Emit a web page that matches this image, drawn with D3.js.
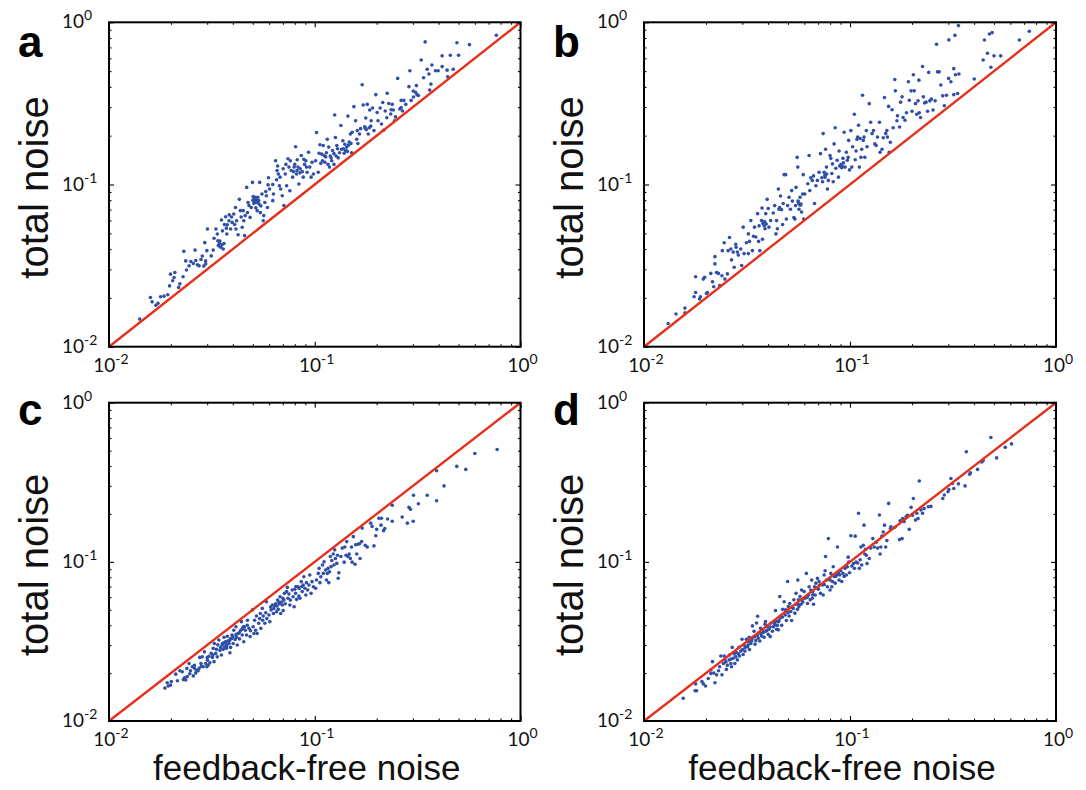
<!DOCTYPE html>
<html><head><meta charset="utf-8">
<script src="https://cdn.jsdelivr.net/npm/d3@7"></script>
<style>body{margin:0;background:#fff} svg{display:block}</style>
</head><body>
<svg id="chart" width="1086" height="790"></svg>
<script>
const panelLetters = ["a", "b", "c", "d"];
const tickValues = [0.01, 0.1, 1];
const tickExponents = ["-2", "-1", "0"];
const yTitle = "total noise";
const xTitle = "feedback-free noise";

const pointsA = [
[0.0141,0.0148],[0.0159,0.0201],[0.0162,0.0189],[0.0169,0.0180],[0.0173,0.0185],[0.0178,0.0203],[0.0185,0.0205],[0.0193,0.0209],[0.0197,0.0237],[0.0199,0.0280],[0.0204,0.0255],[0.0207,0.0267],[0.0209,0.0287],
[0.0218,0.0232],[0.0221,0.0244],[0.0229,0.0270],[0.0231,0.0387],[0.0236,0.0338],[0.0238,0.0297],[0.0245,0.0315],[0.0257,0.0326],[0.0262,0.0394],[0.0269,0.0320],[0.0274,0.0315],[0.0284,0.0362],[0.0289,0.0314],[0.0292,0.0438],[0.0295,0.0338],[0.0301,0.0532],[0.0299,0.0391],[0.0295,0.0324],
[0.0314,0.0363],[0.0321,0.0394],[0.0324,0.0466],[0.0331,0.0532],[0.0336,0.0495],[0.0344,0.0433],[0.0349,0.0410],[0.0352,0.0604],[0.0356,0.0518],[0.0362,0.0433],[0.0359,0.0400],[0.0369,0.0632],[0.0374,0.0495],[0.0376,0.0565],[0.0383,0.0598],[0.0390,0.0532],[0.0397,0.0584],[0.0404,0.0658],[0.0412,0.0721],[0.0417,0.0598],[0.0424,0.0490],[0.0430,0.0810],[0.0435,0.0690],
[0.0444,0.0545],[0.0452,0.0598],[0.0456,0.0484],[0.0467,0.0960],[0.0471,0.0671],[0.0479,0.0743],[0.0485,0.0627],[0.0491,0.0722],[0.0498,0.103],[0.0506,0.0765],[0.0514,0.0834],[0.0521,0.0775],[0.0525,0.0690],[0.0534,0.0795],[0.0540,0.103],[0.0544,0.0671],[0.0547,0.0738],[0.0554,0.0874],[0.0562,0.0598],[0.0565,0.0643],[0.0572,0.0775],[0.0582,0.0852],[0.0589,0.0722],[0.0596,0.110],[0.0603,0.0939],[0.0625,0.0795],[0.0630,0.0874],
[0.0645,0.140],[0.0652,0.107],[0.0660,0.130],[0.0665,0.116],[0.0673,0.0983],[0.0683,0.0939],[0.0695,0.0852],[0.0708,0.0742],[0.0719,0.116],[0.0730,0.0983],[0.0741,0.144],[0.0749,0.128],[0.0757,0.0916],[0.0769,0.122],[0.0781,0.111],[0.0794,0.128],[0.0807,0.171],[0.0816,0.116],[0.0829,0.128],[0.0837,0.1008],[0.0847,0.118],[0.0860,0.151],[0.0879,0.111],[0.0892,0.133],[0.0905,0.140],[0.0918,0.119],[0.0933,0.158],[0.0946,0.128],[0.0960,0.111],[0.0970,0.137],[0.0985,0.116],
[0.102,0.209],[0.104,0.119],[0.106,0.176],[0.108,0.154],[0.109,0.140],[0.111,0.151],[0.113,0.148],[0.115,0.190],[0.116,0.133],[0.117,0.170],[0.118,0.128],[0.120,0.146],[0.122,0.162],[0.124,0.133],[0.125,0.268],[0.126,0.195],[0.128,0.174],[0.130,0.146],[0.132,0.157],[0.134,0.231],
[0.135,0.165],[0.137,0.186],[0.139,0.156],[0.141,0.162],[0.143,0.170],[0.145,0.264],[0.147,0.183],[0.149,0.205],[0.151,0.157],[0.152,0.210],[0.155,0.302],[0.158,0.247],[0.160,0.190],[0.162,0.179],[0.165,0.205],[0.167,0.221],[0.170,0.412],[0.172,0.309],[0.175,0.227],[0.177,0.257],[0.180,0.312],[0.182,0.205],[0.185,0.288],[0.188,0.247],[0.191,0.296],
[0.194,0.215],[0.198,0.358],[0.201,0.278],[0.203,0.247],[0.208,0.296],[0.211,0.236],[0.214,0.320],[0.216,0.216],[0.220,0.284],[0.225,0.365],[0.229,0.316],[0.234,0.272],[0.238,0.312],[0.241,0.288],[0.244,0.247],[0.247,0.261],[0.253,0.451],[0.259,0.292],[0.263,0.298],[0.267,0.284],[0.271,0.330],[0.277,0.312],
[0.287,0.401],[0.290,0.503],[0.294,0.330],[0.302,0.346],[0.309,0.370],[0.314,0.358],[0.319,0.354],[0.329,0.586],[0.338,0.455],[0.344,0.757],[0.352,0.514],[0.359,0.480],[0.362,0.382],[0.367,0.416],[0.371,0.545],[0.386,0.503],
[0.398,0.503],[0.416,0.621],[0.416,0.533],[0.440,0.507],[0.443,0.461],[0.456,0.627],[0.471,0.514],[0.491,0.748],[0.500,0.627],[0.565,0.728],[0.763,0.832],
[0.0338,0.0450],[0.0364,0.0567],[0.0372,0.0538],[0.0384,0.0650],[0.0394,0.0630],[0.0408,0.0567],[0.0414,0.0532],[0.0439,0.0630],[0.0449,0.0690],[0.0459,0.0643],[0.0474,0.0775],[0.0502,0.0842],[0.0510,0.0787],[0.0517,0.0718],[0.0529,0.0834],[0.0536,0.0757],[0.0578,0.0905],[0.0593,0.0995],[0.0625,0.100],[0.0656,0.122],[0.0678,0.111],[0.0702,0.125],[0.0724,0.133],[0.0761,0.140],[0.0800,0.133],[0.0822,0.142],[0.0885,0.143],[0.0912,0.128],[0.101,0.140],[0.105,0.156],[0.110,0.174],[0.114,0.157],[0.121,0.140],[0.129,0.166],[0.140,0.177],[0.150,0.179],[0.161,0.215],[0.176,0.222],[0.187,0.229],[0.224,0.258],[0.235,0.289],[0.263,0.330],[0.301,0.377],[0.312,0.407],
[0.0340,0.0420],[0.0346,0.0448],[0.0354,0.0425],[0.0500,0.0800],[0.0508,0.0820],[0.0520,0.0810],[0.0530,0.0790],[0.0790,0.120],[0.0820,0.122],[0.0850,0.125],[0.0870,0.120],[0.107,0.135],[0.112,0.137],[0.119,0.150],[0.124,0.155],[0.127,0.150],[0.138,0.166],[0.144,0.160],[0.146,0.175],[0.178,0.218],[0.184,0.224],[0.0250,0.0335],[0.0264,0.0340],[0.0280,0.0345]
];

const pointsB = [
[0.0131,0.0139],[0.0143,0.0159],[0.0158,0.0173],[0.0158,0.0162],[0.0175,0.0203],[0.0178,0.0216],[0.0178,0.0270],[0.0186,0.0197],[0.0188,0.0203],[0.0194,0.0261],[0.0197,0.0268],[0.0201,0.0213],[0.0203,0.0216],[0.0211,0.0283],[0.0215,0.0251],[0.0218,0.0234],[0.0221,0.0324],[0.0221,0.0359],[0.0225,0.0287],[0.0230,0.0283],[0.0233,0.0238],[0.0239,0.0274],[0.0240,0.0391],[0.0245,0.0437],[0.0247,0.0261],[0.0254,0.0281],[0.0256,0.0391],[0.0260,0.0471],[0.0264,0.0400],[0.0266,0.0343],[0.0271,0.0383],[0.0274,0.0309],[0.0279,0.0428],[0.0284,0.0383],[0.0287,0.0367],[0.0298,0.0317],
[0.0303,0.0546],[0.0306,0.0375],[0.0314,0.0437],[0.0321,0.0496],[0.0321,0.0375],[0.0325,0.0446],[0.0330,0.0599],[0.0336,0.0391],[0.0344,0.0546],[0.0349,0.0475],[0.0356,0.0661],[0.0360,0.0446],[0.0362,0.0556],[0.0365,0.0391],[0.0372,0.0599],[0.0374,0.0717],[0.0376,0.0460],[0.0383,0.0556],[0.0387,0.0533],[0.0390,0.0661],[0.0396,0.0810],[0.0401,0.0711],[0.0404,0.0546],[0.0412,0.0599],[0.0424,0.0667],[0.0431,0.0741],[0.0437,0.0496],[0.0440,0.0599],[0.0444,0.0533],[0.0449,0.0937],[0.0452,0.0703],[0.0460,0.0850],[0.0471,0.0566],[0.0474,0.0763],[0.0479,0.115],[0.0487,0.115],[0.0491,0.0612],[0.0498,0.0741],[0.0506,0.0834],[0.0514,0.0703],[0.0521,0.0917],[0.0525,0.0790],[0.0534,0.0625],[0.0540,0.0612],[0.0544,0.0741],[0.0547,0.0960],[0.0554,0.147],[0.0558,0.128],[0.0562,0.0774],[0.0565,0.0703],[0.0572,0.0834],[0.0578,0.0758],[0.0582,0.0677],[0.0589,0.0874],[0.0593,0.115],[0.0596,0.0612],[0.0603,0.0874],[0.0624,0.101],
[0.0633,0.151],[0.0638,0.0917],[0.0645,0.110],[0.0656,0.106],[0.0665,0.113],[0.0673,0.0763],[0.0683,0.0982],[0.0695,0.106],[0.0708,0.119],[0.0719,0.155],[0.0730,0.110],[0.0736,0.104],[0.0741,0.206],[0.0749,0.119],[0.0757,0.111],[0.0761,0.165],[0.0769,0.128],[0.0777,0.0937],[0.0785,0.106],[0.0800,0.151],[0.0807,0.145],[0.0816,0.117],[0.0822,0.134],[0.0829,0.104],[0.0837,0.178],[0.0847,0.224],[0.0853,0.126],[0.0866,0.141],[0.0879,0.111],[0.0885,0.161],[0.0901,0.131],[0.0912,0.127],[0.0924,0.145],[0.0937,0.210],[0.0946,0.128],[0.0960,0.158],[0.0970,0.141],[0.0980,0.147],[0.0985,0.187],[0.0995,0.123],
[0.101,0.215],[0.102,0.128],[0.103,0.171],[0.105,0.271],[0.106,0.142],[0.107,0.161],[0.109,0.196],[0.110,0.232],[0.111,0.128],[0.113,0.147],[0.114,0.165],[0.115,0.355],[0.116,0.187],[0.117,0.196],[0.118,0.147],[0.120,0.215],[0.121,0.171],[0.124,0.315],[0.126,0.242],[0.128,0.206],[0.130,0.215],[0.132,0.178],[0.134,0.174],[0.136,0.196],[0.139,0.242],[0.140,0.158],[0.143,0.165],[0.145,0.194],[0.147,0.344],[0.149,0.206],[0.151,0.215],[0.152,0.196],[0.154,0.303],[0.155,0.158],[0.157,0.182],[0.160,0.289],[0.162,0.224],[0.165,0.444],[0.166,0.378],[0.169,0.247],[0.170,0.265],[0.174,0.226],[0.176,0.322],[0.179,0.347],[0.181,0.259],[0.185,0.249],[0.188,0.277],[0.192,0.430],[0.194,0.331],[0.198,0.378],
[0.200,0.283],[0.203,0.475],[0.205,0.378],[0.208,0.315],[0.211,0.271],[0.214,0.328],[0.216,0.440],[0.217,0.277],[0.220,0.259],[0.225,0.534],[0.227,0.347],[0.230,0.318],[0.234,0.322],[0.238,0.283],[0.241,0.491],[0.244,0.328],[0.248,0.336],[0.253,0.288],[0.259,0.328],[0.263,0.732],[0.266,0.495],[0.271,0.495],[0.276,0.411],[0.282,0.352],[0.287,0.306],[0.294,0.355],[0.301,0.451],[0.302,0.779],[0.309,0.430],[0.319,0.518],[0.319,0.358],[0.323,0.831],[0.325,0.475],[0.333,0.364],[0.336,0.954],[0.338,0.480],
[0.401,0.447],[0.443,0.586],[0.449,0.778],[0.465,0.644],[0.475,0.847],[0.483,0.528],[0.490,0.864],[0.500,0.621],[0.539,0.621],[0.664,0.778],[0.742,0.881],
[0.0378,0.0575],[0.0385,0.0590],[0.0392,0.0570],[0.0566,0.0760],[0.0574,0.0745],[0.0560,0.0790],[0.0890,0.130],[0.0905,0.133],[0.0918,0.129],[0.0930,0.136],[0.0755,0.114],[0.0770,0.116],[0.108,0.190],[0.112,0.192],[0.0280,0.0410],[0.0295,0.0400],[0.0340,0.0480],[0.0455,0.0720],[0.0465,0.0700]
];

const pointsC = [
[0.0187,0.0161],[0.0192,0.0174],[0.0194,0.0166],[0.0199,0.0168],[0.0201,0.0177],[0.0211,0.0197],[0.0215,0.0179],[0.0221,0.0207],[0.0227,0.0204],[0.0230,0.0182],[0.0233,0.0187],[0.0236,0.0181],[0.0239,0.0214],[0.0240,0.0190],[0.0245,0.0230],[0.0247,0.0198],[0.0249,0.0207],[0.0254,0.0219],[0.0257,0.0192],[0.0260,0.0224],[0.0264,0.0200],[0.0266,0.0208],[0.0271,0.0207],[0.0274,0.0214],[0.0276,0.0251],[0.0281,0.0221],[0.0284,0.0253],[0.0287,0.0219],[0.0291,0.0272],[0.0295,0.0230],[0.0299,0.0219],
[0.0301,0.0241],[0.0303,0.0224],[0.0306,0.0255],[0.0309,0.0232],[0.0314,0.0266],[0.0318,0.0251],[0.0321,0.0286],[0.0324,0.0236],[0.0325,0.0307],[0.0330,0.0266],[0.0333,0.0282],[0.0336,0.0253],[0.0338,0.0301],[0.0342,0.0323],[0.0346,0.0278],[0.0349,0.0290],[0.0352,0.0260],[0.0356,0.0307],[0.0359,0.0282],[0.0362,0.0336],[0.0365,0.0292],[0.0368,0.0315],[0.0372,0.0286],[0.0374,0.0296],[0.0376,0.0341],[0.0383,0.0307],[0.0387,0.0268],[0.0389,0.0328],[0.0390,0.0290],[0.0396,0.0347],[0.0401,0.0307],[0.0404,0.0372],[0.0410,0.0325],[0.0414,0.0391],[0.0417,0.0336],[0.0420,0.0300],[0.0425,0.0355],[0.0431,0.0328],
[0.0437,0.0372],[0.0440,0.0421],[0.0444,0.0347],[0.0449,0.0391],[0.0452,0.0315],[0.0460,0.0372],[0.0466,0.0347],[0.0471,0.0430],[0.0479,0.0382],[0.0485,0.0339],[0.0487,0.0369],[0.0498,0.0499],[0.0502,0.0391],[0.0506,0.0355],[0.0510,0.0430],[0.0516,0.0372],[0.0521,0.0457],[0.0525,0.0355],[0.0534,0.0411],[0.0540,0.0440],[0.0544,0.0474],[0.0547,0.0382],[0.0556,0.0510],[0.0558,0.0430],[0.0562,0.0457],[0.0572,0.0411],[0.0578,0.0479],[0.0582,0.0561],[0.0585,0.0440],[0.0599,0.0463],[0.0605,0.0421],[0.0614,0.0499],[0.0622,0.0536],[0.0630,0.0474],[0.0633,0.0510],
[0.0645,0.0546],[0.0652,0.0486],[0.0656,0.0528],[0.0660,0.0575],[0.0665,0.0503],[0.0673,0.0546],[0.0678,0.0604],[0.0683,0.0474],[0.0695,0.0536],[0.0702,0.0494],[0.0708,0.0575],[0.0712,0.0634],[0.0719,0.0546],[0.0730,0.0650],[0.0736,0.0691],[0.0741,0.0590],[0.0749,0.0628],[0.0757,0.0536],[0.0761,0.0575],[0.0777,0.0666],[0.0785,0.0604],[0.0794,0.0522],[0.0800,0.0673],[0.0807,0.0634],[0.0816,0.0581],[0.0829,0.0698],[0.0837,0.0609],[0.0847,0.0590],[0.0860,0.0751],[0.0869,0.0650],[0.0879,0.0715],[0.0885,0.0806],[0.0895,0.0682],[0.0905,0.0619],[0.0912,0.0740],[0.0924,0.0666],[0.0937,0.0715],[0.0946,0.0827],[0.0960,0.0634],[0.0970,0.0751],[0.0985,0.0698],
[0.101,0.0682],[0.102,0.0769],[0.104,0.0846],[0.105,0.0910],[0.106,0.0740],[0.107,0.0806],[0.109,0.0955],[0.110,0.0846],[0.111,0.100],[0.113,0.0889],[0.114,0.0769],[0.115,0.0846],[0.116,0.0910],[0.117,0.0740],[0.118,0.0865],[0.119,0.108],[0.120,0.0933],[0.121,0.102],[0.123,0.112],[0.124,0.0955],[0.125,0.119],[0.126,0.105],[0.128,0.0978],[0.129,0.110],[0.130,0.0788],[0.131,0.0855],[0.134,0.108],[0.136,0.122],[0.139,0.0996],[0.140,0.124],[0.142,0.110],[0.143,0.134],[0.145,0.108],[0.147,0.112],[0.149,0.105],[0.151,0.124],[0.152,0.0996],[0.154,0.144],[0.157,0.0965],[0.158,0.128],[0.160,0.112],[0.162,0.129],[0.165,0.130],[0.166,0.105],[0.169,0.134],[0.170,0.163],
[0.176,0.127],[0.180,0.124],[0.187,0.175],[0.190,0.167],[0.194,0.126],[0.198,0.146],[0.200,0.160],[0.205,0.188],[0.210,0.170],[0.211,0.188],[0.216,0.157],[0.219,0.162],[0.226,0.186],[0.238,0.227],[0.238,0.180],[0.266,0.191],[0.282,0.175],[0.287,0.220],[0.292,0.214],[0.301,0.180],[0.302,0.262],[0.319,0.232],[0.352,0.262],[0.391,0.374],[0.391,0.242],[0.425,0.300],[0.490,0.398],[0.542,0.381],[0.600,0.479],[0.770,0.508],
[0.0355,0.0300],[0.0362,0.0310],[0.0370,0.0305],[0.0378,0.0318],[0.0385,0.0320],[0.0395,0.0330],[0.0400,0.0340],[0.0415,0.0350],[0.0430,0.0360],[0.0445,0.0380],[0.0455,0.0390],[0.0470,0.0400],[0.0610,0.0520],[0.0640,0.0530],[0.0668,0.0560],[0.0690,0.0560],[0.0700,0.0590],[0.0810,0.0700],[0.0840,0.0680],[0.0865,0.0700],[0.0260,0.0215],[0.0280,0.0230],[0.0300,0.0250],[0.0320,0.0260]
];

const pointsD = [
[0.0155,0.0139],[0.0177,0.0155],[0.0180,0.0155],[0.0178,0.0171],[0.0191,0.0177],[0.0194,0.0171],[0.0199,0.0166],[0.0205,0.0185],[0.0211,0.0199],[0.0211,0.0209],[0.0215,0.0236],[0.0218,0.0200],[0.0221,0.0174],[0.0225,0.0195],[0.0230,0.0207],[0.0233,0.0219],[0.0236,0.0256],[0.0239,0.0195],[0.0243,0.0230],[0.0245,0.0256],[0.0247,0.0242],[0.0251,0.0211],[0.0254,0.0224],[0.0259,0.0242],[0.0260,0.0260],[0.0264,0.0230],[0.0266,0.0219],[0.0268,0.0290],[0.0271,0.0248],[0.0274,0.0264],[0.0276,0.0230],[0.0279,0.0253],[0.0284,0.0242],[0.0287,0.0264],[0.0289,0.0290],[0.0291,0.0256],[0.0295,0.0275],[0.0299,0.0326],
[0.0301,0.0281],[0.0303,0.0262],[0.0306,0.0300],[0.0309,0.0275],[0.0314,0.0326],[0.0318,0.0293],[0.0321,0.0316],[0.0324,0.0336],[0.0325,0.0281],[0.0330,0.0307],[0.0333,0.0318],[0.0336,0.0396],[0.0338,0.0336],[0.0342,0.0366],[0.0346,0.0304],[0.0349,0.0321],[0.0352,0.0413],[0.0356,0.0455],[0.0359,0.0331],[0.0362,0.0359],[0.0365,0.0318],[0.0368,0.0383],[0.0372,0.0342],[0.0376,0.0374],[0.0383,0.0336],[0.0387,0.0406],[0.0389,0.0422],[0.0390,0.0366],[0.0396,0.0391],[0.0401,0.0350],[0.0404,0.0377],[0.0410,0.0339],[0.0414,0.0413],[0.0420,0.0366],[0.0425,0.0391],[0.0431,0.0413],[0.0435,0.0494],
[0.0437,0.0423],[0.0440,0.0377],[0.0444,0.0399],[0.0449,0.0374],[0.0452,0.0428],[0.0456,0.0606],[0.0460,0.0445],[0.0466,0.0399],[0.0471,0.0503],[0.0479,0.0561],[0.0485,0.0464],[0.0487,0.0499],[0.0491,0.0428],[0.0498,0.0752],[0.0502,0.0523],[0.0506,0.0457],[0.0510,0.0547],[0.0516,0.0488],[0.0521,0.0428],[0.0525,0.0523],[0.0534,0.0577],[0.0540,0.0476],[0.0544,0.0542],[0.0547,0.0634],[0.0556,0.0503],[0.0558,0.0768],[0.0562,0.0577],[0.0565,0.0523],[0.0572,0.0606],[0.0578,0.0542],[0.0582,0.0666],[0.0585,0.0577],[0.0599,0.0650],[0.0605,0.0590],[0.0614,0.0846],[0.0622,0.0547],[0.0630,0.0619],[0.0633,0.0698],
[0.0641,0.0577],[0.0645,0.0666],[0.0652,0.0768],[0.0656,0.0590],[0.0660,0.0650],[0.0665,0.0542],[0.0673,0.0698],[0.0678,0.0619],[0.0683,0.0735],[0.0695,0.0787],[0.0702,0.0672],[0.0708,0.0752],[0.0712,0.0715],[0.0719,0.0634],[0.0736,0.0715],[0.0741,0.0619],[0.0749,0.0826],[0.0757,0.0880],[0.0761,0.108],[0.0769,0.0768],[0.0777,0.0698],[0.0785,0.140],[0.0794,0.0776],[0.0800,0.0666],[0.0807,0.0846],[0.0816,0.0698],[0.0822,0.0752],[0.0829,0.0932],[0.0837,0.0810],[0.0847,0.0735],[0.0853,0.0810],[0.0869,0.124],[0.0879,0.0846],[0.0885,0.0768],[0.0892,0.0826],[0.0901,0.0880],[0.0912,0.0752],[0.0924,0.0846],[0.0937,0.0810],[0.0946,0.0910],[0.0960,0.0826],[0.0970,0.0932],[0.0980,0.107],[0.0985,0.0996],[0.0995,0.0855],
[0.101,0.146],[0.102,0.0941],[0.104,0.0975],[0.105,0.0910],[0.106,0.145],[0.107,0.0996],[0.109,0.0984],[0.110,0.202],[0.111,0.0910],[0.112,0.103],[0.113,0.124],[0.114,0.0955],[0.116,0.127],[0.117,0.170],[0.118,0.112],[0.119,0.120],[0.120,0.110],[0.121,0.0975],[0.124,0.105],[0.126,0.122],[0.129,0.140],[0.131,0.124],[0.134,0.133],[0.136,0.122],[0.139,0.197],[0.140,0.112],[0.141,0.124],[0.143,0.145],[0.145,0.154],[0.147,0.170],[0.149,0.124],[0.151,0.136],[0.154,0.233],[0.157,0.162],[0.158,0.166],[0.165,0.165],[0.174,0.138],[0.175,0.181],[0.179,0.140],[0.180,0.187],[0.183,0.179],[0.187,0.191],[0.190,0.196],[0.194,0.160],[0.198,0.220],
[0.201,0.196],[0.203,0.250],[0.208,0.183],[0.211,0.202],[0.214,0.187],[0.217,0.322],[0.221,0.212],[0.225,0.202],[0.229,0.216],[0.240,0.222],[0.247,0.223],[0.282,0.250],[0.287,0.263],[0.299,0.276],[0.302,0.285],[0.309,0.334],[0.314,0.311],[0.319,0.289],[0.336,0.309],[0.362,0.300],[0.367,0.492],[0.381,0.355],[0.384,0.363],[0.416,0.381],[0.436,0.424],[0.443,0.434],[0.483,0.605],[0.515,0.450],[0.567,0.524],[0.608,0.551],
[0.0310,0.0290],[0.0320,0.0300],[0.0335,0.0330],[0.0345,0.0340],[0.0355,0.0345],[0.0370,0.0355],[0.0380,0.0360],[0.0395,0.0370],[0.0410,0.0390],[0.0430,0.0400],[0.0450,0.0420],[0.0470,0.0450],[0.0500,0.0480],[0.0530,0.0510],[0.0560,0.0540],[0.0590,0.0560],[0.0620,0.0600],[0.0660,0.0620],[0.0700,0.0680],[0.0750,0.0720],[0.0800,0.0770],[0.0860,0.0830],[0.0280,0.0270],[0.0265,0.0245],[0.0250,0.0235]
];

const panelData = [pointsA, pointsB, pointsC, pointsD];

const dotColor = "#2f4fa8";
const lineColor = "#e5301c";
const tickFont = "Lato, 'Open Sans', sans-serif";
const titleFont = "'Liberation Sans', Arial, Helvetica, sans-serif";

const svg = d3.select("#chart");
svg.append("rect").attr("width", 1086).attr("height", 790).attr("fill", "#fff");

const layout = [
  {left: 109, right: 520.5, top: 22.3, bottom: 346.7, letterY: 57, showX: false},
  {left: 644, right: 1056, top: 22.3, bottom: 346.7, letterY: 57, showX: false},
  {left: 109, right: 520.5, top: 402.7, bottom: 721, letterY: 425, showX: true},
  {left: 644, right: 1056, top: 402.7, bottom: 721, letterY: 425, showX: true}
];

layout.forEach((p, i) => {
  const data = panelData[i];
  const x = d3.scaleLog().domain([0.01, 1]).range([p.left, p.right]);
  const y = d3.scaleLog().domain([0.01, 1]).range([p.bottom, p.top]);
  const g = svg.append("g");

  const minorX = x.ticks().filter(v => !tickValues.some(t => Math.abs(t - v) < 1e-9));
  const minorY = y.ticks().filter(v => !tickValues.some(t => Math.abs(t - v) < 1e-9));

  const addAxis = (axisFn, scale, vals, size, transform) => {
    const a = g.append("g").attr("transform", transform)
      .call(axisFn(scale).tickValues(vals).tickSize(size).tickFormat(""));
    a.select(".domain").remove();
    a.selectAll("line").attr("stroke", "#000").attr("stroke-width", 1.1);
  };

  // points
  g.append("g").selectAll("circle").data(data).join("circle")
    .attr("cx", d => x(d[0])).attr("cy", d => y(d[1]))
    .attr("r", 1.8).attr("fill", dotColor);

  // identity line
  g.append("line")
    .attr("x1", x(0.01)).attr("y1", y(0.01))
    .attr("x2", x(1)).attr("y2", y(1))
    .attr("stroke", lineColor).attr("stroke-width", 2.4);

  addAxis(d3.axisBottom, x, tickValues, -5, `translate(0,${p.bottom})`);
  addAxis(d3.axisBottom, x, minorX, -2.5, `translate(0,${p.bottom})`);
  addAxis(d3.axisTop, x, tickValues, -5, `translate(0,${p.top})`);
  addAxis(d3.axisTop, x, minorX, -2.5, `translate(0,${p.top})`);
  addAxis(d3.axisLeft, y, tickValues, -5, `translate(${p.left},0)`);
  addAxis(d3.axisLeft, y, minorY, -2.5, `translate(${p.left},0)`);
  addAxis(d3.axisRight, y, tickValues, -5, `translate(${p.right},0)`);
  addAxis(d3.axisRight, y, minorY, -2.5, `translate(${p.right},0)`);

  // frame
  g.append("rect")
    .attr("x", p.left).attr("y", p.top)
    .attr("width", p.right - p.left).attr("height", p.bottom - p.top)
    .attr("fill", "none").attr("stroke", "#000").attr("stroke-width", 2);

  // tick labels
  tickValues.forEach((v, k) => {
    const ty = g.append("text")
      .attr("x", p.left - 47).attr("y", y(v) + 6)
      .attr("font-family", tickFont).attr("font-size", 19).attr("fill", "#111");
    ty.append("tspan").text("10");
    ty.append("tspan").attr("dy", -8).attr("font-size", 14).text(tickExponents[k]);

    const tx = g.append("text")
      .attr("x", x(v) + 2).attr("y", p.bottom + 25)
      .attr("text-anchor", "middle")
      .attr("font-family", tickFont).attr("font-size", 19).attr("fill", "#111");
    tx.append("tspan").text("10");
    tx.append("tspan").attr("dy", -8).attr("font-size", 14).text(tickExponents[k]);
  });

  // y title
  g.append("text")
    .attr("transform", `translate(${p.left - 61},${(p.top + p.bottom) / 2 + 3}) rotate(-90)`)
    .attr("text-anchor", "middle")
    .attr("font-family", titleFont).attr("font-size", 40).attr("fill", "#111")
    .text(yTitle);

  // x title
  if (p.showX) {
    g.append("text")
      .attr("x", (p.left + p.right) / 2 - 8).attr("y", 780)
      .attr("text-anchor", "middle")
      .attr("font-family", titleFont).attr("font-size", 35).attr("fill", "#111")
      .text(xTitle);
  }

  // panel letter
  g.append("text")
    .attr("x", p.left - 91).attr("y", p.letterY)
    .attr("font-family", titleFont).attr("font-weight", "bold")
    .attr("font-size", 44).attr("fill", "#000")
    .text(panelLetters[i]);
});
</script>
</body></html>
